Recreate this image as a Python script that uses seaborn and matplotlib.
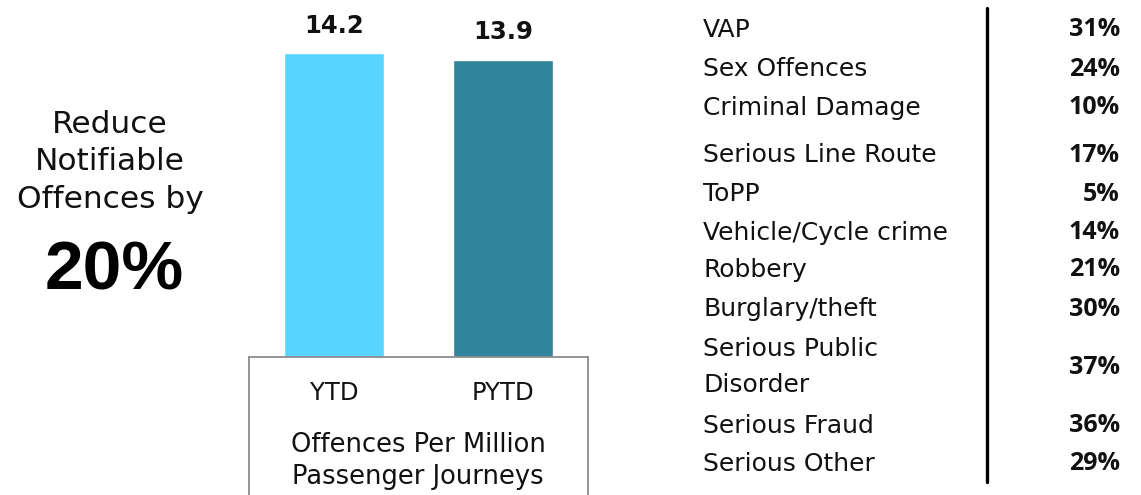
import matplotlib
matplotlib.use("Agg")
import matplotlib.pyplot as plt
from matplotlib.lines import Line2D
import seaborn as sns
import pandas as pd

# ---- data ----
periods = ["YTD", "PYTD"]
offences_per_million = [14.2, 13.9]
bar_colors = ["#57D4FF", "#31849B"]

crime_types = ["VAP", "Sex Offences", "Criminal Damage", "Serious Line Route", "ToPP",
               "Vehicle/Cycle crime", "Robbery", "Burglary/theft",
               "Serious Public\nDisorder", "Serious Fraud", "Serious Other"]
crime_pct = ["31%", "24%", "10%", "17%", "5%", "14%", "21%", "30%", "37%", "36%", "29%"]

target_text = "Reduce\nNotifiable\nOffences by"
target_value = "20%"
axis_caption = "Offences Per Million\nPassenger Journeys"

sns.set_theme(style="white")
W, H = 1141, 495
fig = plt.figure(figsize=(W / 100, H / 100), dpi=100)

def fx(px):
    return px / W

def fy(py):
    return 1 - py / H

# ---- bar axes ----
px_per_unit = 21.4
ax_top, ax_bot = 20, 357
ax = fig.add_axes([fx(249), fy(ax_bot), fx(588 - 249), (ax_bot - ax_top) / H])
df = pd.DataFrame({"period": periods, "value": offences_per_million})
sns.barplot(data=df, x="period", y="value", hue="period", palette=bar_colors,
            width=100 / 169, legend=False, ax=ax, saturation=1)
ax.set_xlim(-0.503, 1.503)
ax.set_ylim(0, (ax_bot - ax_top) / px_per_unit)
for c in ax.containers:
    ax.bar_label(c, fmt="%.1f", padding=11, fontsize=17.5, fontweight="bold",
                 family="DejaVu Sans", color="#111111")
ax.set_xlabel("")
ax.set_ylabel("")
ax.set_xticks([])
ax.set_yticks([])
for s in ax.spines.values():
    s.set_visible(False)
ax.patch.set_alpha(0)

# ---- box beneath bars ----
bx = fig.add_axes([fx(249), 0, fx(588 - 249), fy(357)])
bx.set_xlim(-0.503, 1.503)
bx.set_ylim(0, 1)
bx.set_xticks([])
bx.set_yticks([])
for side in ["left", "right", "top"]:
    bx.spines[side].set_color("#8c8c8c")
    bx.spines[side].set_linewidth(1.3)
bx.spines["bottom"].set_visible(False)
bx.patch.set_alpha(0)
for i, p in enumerate(periods):
    fig.text(fx(334 + i * 169), fy(393), p, ha="center", va="center",
             fontsize=17.5, family="DejaVu Sans", color="#111111")
fig.text(fx(418), fy(461), axis_caption, ha="center", va="center",
         fontsize=18.5, family="DejaVu Sans", color="#111111", linespacing=1.3)

# ---- left target text ----
fig.text(fx(110), fy(162), target_text, ha="center", va="center",
         fontsize=22.5, family="DejaVu Sans", color="#111111", linespacing=1.36)
fig.text(fx(114), fy(271), target_value, ha="center", va="center",
         fontsize=50, family="Liberation Sans", fontweight="bold", color="black")

# ---- right list ----
row_y = [30, 69, 108, 155, 194, 233, 270, 309, 367, 426, 464]
for name, pct, y in zip(crime_types, crime_pct, row_y):
    fig.text(fx(703), fy(y), name, ha="left", va="center", fontsize=18,
             family="DejaVu Sans", color="#111111", linespacing=1.6)
    fig.text(fx(1120), fy(y), pct, ha="right", va="center", fontsize=18,
             family="Open Sans", fontweight="bold", color="#111111")

fig.add_artist(Line2D([fx(987), fx(987)], [fy(8), fy(482)], color="black",
                      linewidth=2.4, transform=fig.transFigure))

fig.savefig("out.png", dpi=100)
